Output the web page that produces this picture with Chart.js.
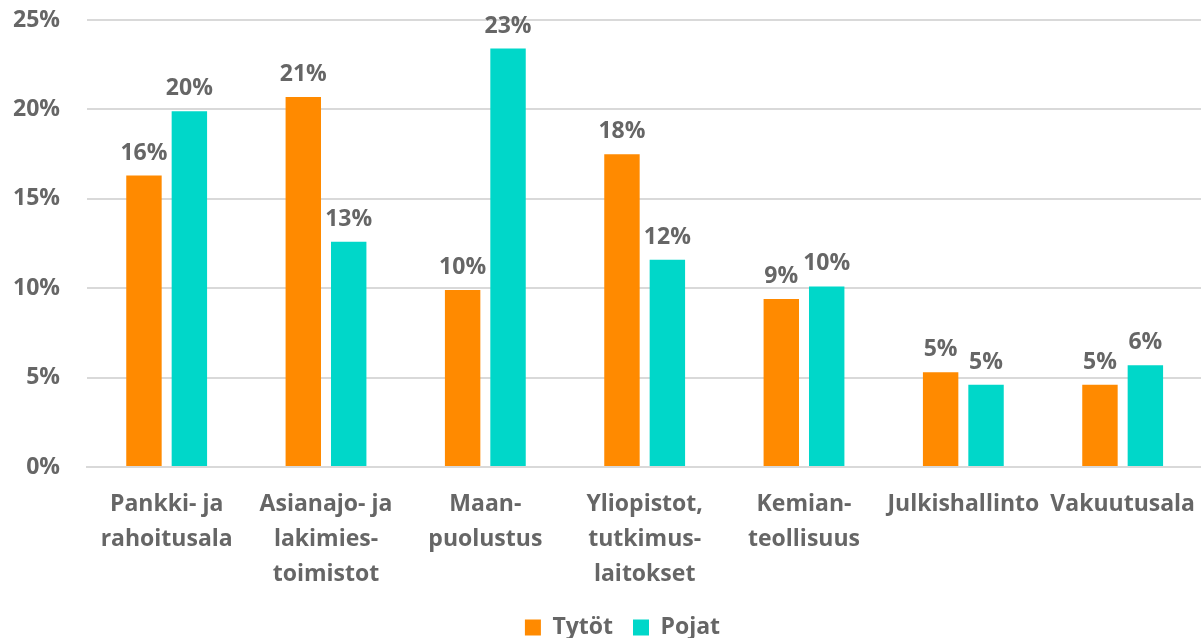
<!DOCTYPE html>
<html>
<head>
<meta charset="utf-8">
<script src="https://cdn.jsdelivr.net/npm/chart.js@4/dist/chart.umd.min.js"></script>
<style>
  html, body { margin: 0; padding: 0; background: #fff; overflow: hidden; }
  #wrap { width: 1207px; height: 638px; position: relative; }
</style>
</head>
<body>
<div id="wrap"><canvas id="chart"></canvas></div>
<script>
// Data
const categories = [
    ['Pankki- ja', 'rahoitusala'],
    ['Asianajo- ja', 'lakimies-', 'toimistot'],
    ['Maan-', 'puolustus'],
    ['Yliopistot,', 'tutkimus-', 'laitokset'],
    ['Kemian-', 'teollisuus'],
    'Julkishallinto',
    'Vakuutusala'
];
const tytot = [16.3, 20.7, 9.9, 17.5, 9.4, 5.3, 4.6];
const pojat = [19.9, 12.6, 23.4, 11.6, 10.1, 4.6, 5.7];
const seriesNames = ['Tytöt', 'Pojat'];
const yTicks = [0, 5, 10, 15, 20, 25];

const textColor = '#666666';
const fontFamily = '"Open Sans", Lato, sans-serif';
const fontSize = 23;

// Value labels above the bars
const barLabels = {
    id: 'barLabels',
    afterDatasetsDraw(chart) {
        const ctx = chart.ctx;
        ctx.save();
        ctx.font = 'bold ' + fontSize + 'px ' + fontFamily;
        ctx.fillStyle = textColor;
        ctx.textAlign = 'center';
        ctx.textBaseline = 'alphabetic';
        chart.data.datasets.forEach((ds, i) => {
            chart.getDatasetMeta(i).data.forEach((bar, j) => {
                ctx.fillText(Math.round(ds.data[j]) + '%', bar.x, bar.y - 16);
            });
        });
        ctx.restore();
    }
};

// Legend in the original sits a bit right of the canvas centre and slightly higher
const legendShift = {
    id: 'legendShift',
    afterLayout(chart) {
        const lg = chart.legend;
        if (lg) {
            lg.left = 38;
            lg.right = chart.width;
            lg.top -= 8;
            lg.bottom -= 8;
        }
    }
};

const ctx = document.getElementById('chart').getContext('2d');
new Chart(ctx, {
    type: 'bar',
    data: {
        labels: categories,
        datasets: [
            { label: seriesNames[0], data: tytot, backgroundColor: '#FF8A00' },
            { label: seriesNames[1], data: pojat, backgroundColor: '#00D7C9' }
        ]
    },
    options: {
        responsive: true,
        maintainAspectRatio: false,
        animation: false,
        categoryPercentage: 0.57,
        barPercentage: 0.78,
        layout: { padding: { top: 20, left: 0, right: 0, bottom: -19 } },
        scales: {
            x: {
                grid: { display: false },
                border: { color: '#d9d9d9', width: 2 },
                ticks: {
                    color: textColor,
                    font: { family: fontFamily, size: fontSize, weight: 'bold', lineHeight: 1.52 },
                    padding: 12,
                    maxRotation: 0,
                    autoSkip: false
                }
            },
            y: {
                min: 0,
                max: 25,
                afterFit(scale) { scale.width = 87; },
                afterBuildTicks(scale) { scale.ticks = yTicks.map(v => ({ value: v })); },
                grid: { color: '#d9d9d9', lineWidth: 2, drawTicks: true, tickLength: 27, tickColor: 'rgba(0,0,0,0)' },
                border: { display: false },
                ticks: {
                    color: textColor,
                    font: { family: fontFamily, size: fontSize, weight: 'bold' },
                    padding: 0,
                    callback: v => v + '%'
                }
            }
        },
        plugins: {
            legend: {
                position: 'bottom',
                labels: {
                    color: textColor,
                    font: { family: fontFamily, size: fontSize, weight: 'bold' },
                    boxWidth: 16,
                    boxHeight: 16,
                    padding: 20
                }
            },
            tooltip: { enabled: false }
        }
    },
    plugins: [barLabels, legendShift]
});
</script>
</body>
</html>
